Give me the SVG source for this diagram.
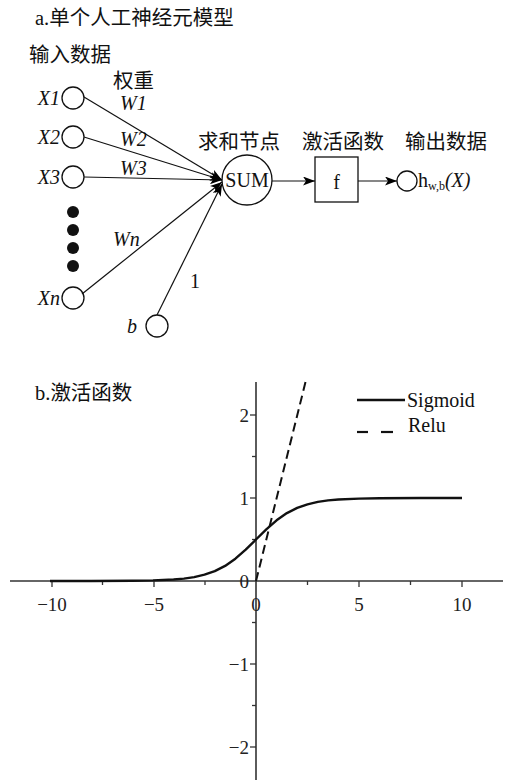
<svg xmlns="http://www.w3.org/2000/svg" width="505" height="780" viewBox="0 0 505 780">
<defs>
<marker id="ah" markerWidth="12" markerHeight="9" refX="12" refY="4.5" orient="auto" markerUnits="userSpaceOnUse">
<path d="M0,0 L12,4.5 L0,9 L3,4.5 z" fill="#000"/>
</marker>
<style>
.cjk{font-family:"Liberation Serif","Times New Roman","DejaVu Serif","Noto Sans CJK SC",serif;font-size:20.5px;fill:#111}
.lat{font-family:"Liberation Serif","Times New Roman","DejaVu Serif",serif;font-size:20px;fill:#111}
.it{font-family:"Liberation Serif","Times New Roman","DejaVu Serif",serif;font-style:italic;font-size:20px;fill:#111}
.num{font-family:"Liberation Serif","Times New Roman","DejaVu Serif",serif;font-size:19px;fill:#222}
.node{fill:#fff;stroke:#111;stroke-width:1.3}
.edge{stroke:#111;stroke-width:1.2;fill:none;marker-end:url(#ah)}
.axis{stroke:#333;stroke-width:1.6;fill:none}
.tick{stroke:#333;stroke-width:1.3}
</style>
</defs>
<rect width="505" height="780" fill="#fff"/>

<!-- Part a -->
<text class="cjk" x="35" y="25">a.单个人工神经元模型</text>
<text class="cjk" x="29" y="62">输入数据</text>
<text class="cjk" x="113" y="88">权重</text>

<g id="x1"><circle class="node" cx="73" cy="98" r="11"/><text class="it" x="60" y="105" text-anchor="end">X1</text></g>
<g id="x2"><circle class="node" cx="73" cy="137" r="11"/><text class="it" x="60" y="144" text-anchor="end">X2</text></g>
<g id="x3"><circle class="node" cx="73" cy="177" r="11"/><text class="it" x="60" y="184" text-anchor="end">X3</text></g>
<g id="dots">
<circle cx="73" cy="212" r="6" fill="#111"/>
<circle cx="73" cy="230" r="6" fill="#111"/>
<circle cx="73" cy="248" r="6" fill="#111"/>
<circle cx="73" cy="266" r="6" fill="#111"/>
</g>
<g id="xn"><circle class="node" cx="73" cy="298" r="11"/><text class="it" x="60" y="305" text-anchor="end">Xn</text></g>
<g id="b"><circle class="node" cx="157" cy="326" r="11"/><text class="it" x="137" y="333" text-anchor="end">b</text></g>

<g id="sum"><circle class="node" cx="247" cy="180" r="25"/><text class="lat" x="247" y="187" text-anchor="middle" font-size="20">SUM</text></g>
<text class="cjk" x="198" y="149">求和节点</text>
<g id="f"><rect class="node" x="315" y="157" width="43" height="45"/><text class="lat" x="336.5" y="189" text-anchor="middle">f</text></g>
<text class="cjk" x="302" y="149">激活函数</text>
<g id="out"><circle class="node" cx="407" cy="181" r="10"/>
<text class="lat" x="418" y="187">h<tspan font-size="12" dy="3">w,b</tspan><tspan font-style="italic" dy="-3">(X)</tspan></text></g>
<text class="cjk" x="405" y="149">输出数据</text>

<g id="connectors">
<line class="edge" x1="84" y1="97" x2="222" y2="180"/>
<line class="edge" x1="84" y1="137" x2="222" y2="180"/>
<line class="edge" x1="84" y1="177" x2="222" y2="180"/>
<line class="edge" x1="82" y1="294" x2="222" y2="182"/>
<line class="edge" x1="157" y1="315" x2="222" y2="184"/>
<line class="edge" x1="272" y1="181" x2="315" y2="181"/>
<line class="edge" x1="358" y1="181" x2="397" y2="181"/>
</g>
<text class="it" x="120" y="110">W1</text>
<text class="it" x="120" y="146">W2</text>
<text class="it" x="120" y="175">W3</text>
<text class="it" x="113" y="246">Wn</text>
<text class="lat" x="190" y="288">1</text>

<!-- Part b -->
<text class="cjk" x="35" y="400">b.激活函数</text>
<g id="axes">
<line class="axis" x1="10" y1="581" x2="503" y2="581"/>
<line class="axis" x1="256" y1="382" x2="256" y2="780"/>
<line class="tick" x1="52" y1="581" x2="52" y2="587"/>
<line class="tick" x1="102.5" y1="581" x2="102.5" y2="585"/>
<line class="tick" x1="154" y1="581" x2="154" y2="587"/>
<line class="tick" x1="205" y1="581" x2="205" y2="585"/>
<line class="tick" x1="307.5" y1="581" x2="307.5" y2="585"/>
<line class="tick" x1="359" y1="581" x2="359" y2="587"/>
<line class="tick" x1="410.5" y1="581" x2="410.5" y2="585"/>
<line class="tick" x1="462" y1="581" x2="462" y2="587"/>
<line class="tick" x1="250" y1="415" x2="256" y2="415"/>
<line class="tick" x1="252" y1="456.5" x2="256" y2="456.5"/>
<line class="tick" x1="250" y1="498" x2="256" y2="498"/>
<line class="tick" x1="252" y1="539.5" x2="256" y2="539.5"/>
<line class="tick" x1="252" y1="622.5" x2="256" y2="622.5"/>
<line class="tick" x1="250" y1="664" x2="256" y2="664"/>
<line class="tick" x1="252" y1="705.5" x2="256" y2="705.5"/>
<line class="tick" x1="250" y1="747" x2="256" y2="747"/>
</g>
<g id="labels">
<text class="num" x="52" y="611" text-anchor="middle">−10</text>
<text class="num" x="154" y="611" text-anchor="middle">−5</text>
<text class="num" x="256" y="611" text-anchor="middle">0</text>
<text class="num" x="359" y="611" text-anchor="middle">5</text>
<text class="num" x="462" y="611" text-anchor="middle">10</text>
<text class="num" x="249" y="422" text-anchor="end">2</text>
<text class="num" x="249" y="505" text-anchor="end">1</text>
<text class="num" x="249" y="588" text-anchor="end">0</text>
<text class="num" x="249" y="671" text-anchor="end">−1</text>
<text class="num" x="249" y="754" text-anchor="end">−2</text>
</g>
<g id="curves">
<path d="M50,581 L91.2,581 L132.4,580.8 L153,580.4 L173.6,579.5 L183.9,578.6 L194.2,577.1 L204.5,574.7 L214.8,571.1 L225.1,565.9 L235.4,558.7 L245.7,549.7 L256,539.5 L266.3,529.3 L276.6,520.3 L286.9,513.1 L297.2,507.9 L307.5,504.3 L317.8,501.9 L328.1,500.4 L338.4,499.5 L359,498.6 L379.6,498.2 L420.8,498 L462,498" fill="none" stroke="#111" stroke-width="2.4" stroke-linejoin="round"/>
<line x1="256" y1="581" x2="305.5" y2="382" stroke="#111" stroke-width="2" stroke-dasharray="9 5"/>
</g>
<g id="legend">
<line x1="357" y1="400" x2="405" y2="400" stroke="#111" stroke-width="2.4"/>
<text class="lat" x="407" y="407">Sigmoid</text>
<line x1="357" y1="432" x2="368" y2="432" stroke="#111" stroke-width="2.2"/>
<line x1="381" y1="432" x2="393" y2="432" stroke="#111" stroke-width="2.2"/>
<text class="lat" x="408" y="432">Relu</text>
</g>
</svg>
